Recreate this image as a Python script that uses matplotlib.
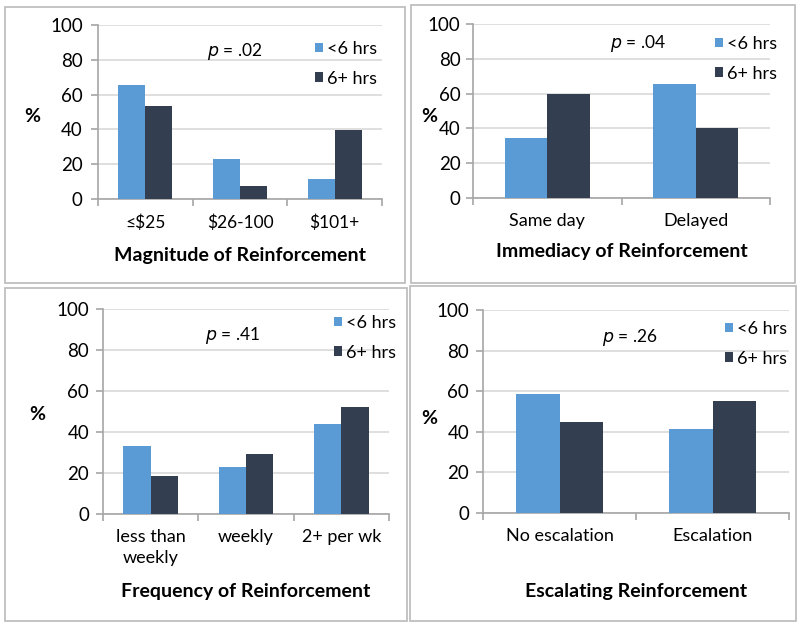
import numpy as np
import matplotlib
matplotlib.use("Agg")
import matplotlib.pyplot as plt
from matplotlib.patches import Rectangle

plt.rcParams['font.family'] = ['Lato', 'DejaVu Sans']

W, H = 800, 626

# data
series_names = ['<6 hrs', '6+ hrs']

mag_cats = ['≤$25', '$26-100', '$101+']
mag_lt6 = [65.5, 23, 11.3]
mag_6plus = [53.6, 7.2, 39.4]

imm_cats = ['Same day', 'Delayed']
imm_lt6 = [34.2, 65.7]
imm_6plus = [59.9, 40.0]

freq_cats = ['less than\nweekly', 'weekly', '2+ per wk']
freq_lt6 = [33.4, 23.1, 43.7]
freq_6plus = [18.6, 29.5, 52.1]

esc_cats = ['No escalation', 'Escalation']
esc_lt6 = [58.8, 41.2]
esc_6plus = [44.6, 55.4]

titles = ['Magnitude of Reinforcement', 'Immediacy of Reinforcement',
          'Frequency of Reinforcement', 'Escalating Reinforcement']
pvals = ['.02', '.04', '.41', '.26']

BLUE = '#5B9BD5'
DARK = '#333F50'


def fx(x):
    return x / W


def fy(y):
    return 1 - y / H


fig = plt.figure(figsize=(8, 6.26), dpi=100)

# panel frames (left, top, right, bottom) in pixels
boxes = [(5, 7, 405, 283), (411, 5, 795, 283), (5, 288, 407, 621), (410, 286, 796, 621)]
for l, t, r, b in boxes:
    fig.patches.append(Rectangle((fx(l), fy(b)), fx(r - l), (b - t) / H,
                                 transform=fig.transFigure, fill=False,
                                 edgecolor='#BFBFBF', linewidth=1.3))

# axes rects (left, top, right, bottom) in pixels
axes_px = [(98, 25, 382, 199), (473, 24, 770, 198), (103, 309, 389, 514), (483, 310, 789, 513)]
panels = [(mag_cats, mag_lt6, mag_6plus), (imm_cats, imm_lt6, imm_6plus),
          (freq_cats, freq_lt6, freq_6plus), (esc_cats, esc_lt6, esc_6plus)]
title_y = [255, 252, 592, 592]
pct_pos = [(32, 117), (429, 116), (37, 415), (429, 418)]
p_pos = [(235, 52), (638, 43), (232, 335), (630, 338)]
leg_pos = [(315, 41), (715, 36), (334, 315), (725, 321)]
cat_fs = [12.5, 13, 13, 13]
ypad = [6, 4, 5, 5]

w = 0.2857
for i in range(4):
    l, t, r, b = axes_px[i]
    ax = fig.add_axes([fx(l), fy(b), (r - l) / W, (b - t) / H])
    cats, lt6, p6 = panels[i]
    x = np.arange(len(cats))
    ax.bar(x - w / 2, lt6, w, color=BLUE, label=series_names[0], zorder=3)
    ax.bar(x + w / 2, p6, w, color=DARK, label=series_names[1], zorder=3)
    ax.set_xlim(-0.5, len(cats) - 0.5)
    ax.set_ylim(0, 100)
    ax.set_yticks(np.arange(0, 101, 20))
    ax.yaxis.grid(True, color='#D9D9D9', linewidth=1.2, zorder=0)
    ax.set_axisbelow(True)
    for s in ['top', 'right']:
        ax.spines[s].set_visible(False)
    for s in ['left', 'bottom']:
        ax.spines[s].set_color('#A6A6A6')
        ax.spines[s].set_linewidth(1.2)
    ax.set_xticks(np.arange(len(cats) + 1) - 0.5)
    ax.set_xticklabels([])
    ax.set_xticks(x, minor=True)
    ax.set_xticklabels(cats, minor=True, fontsize=cat_fs[i], linespacing=1.35)
    ax.tick_params(axis='x', which='major', length=5, color='#A6A6A6', width=1.2)
    ax.tick_params(axis='x', which='minor', length=0, pad=11)
    ax.tick_params(axis='y', length=5, color='#A6A6A6', width=1.2, pad=ypad[i], labelsize=13.5)

    fig.text(fx((l + r) / 2), fy(title_y[i]), titles[i], ha='center', va='center',
             fontsize=14, fontweight='bold')
    fig.text(fx(pct_pos[i][0]), fy(pct_pos[i][1]), '%', ha='center', va='center',
             fontsize=14, fontweight='bold')
    fig.text(fx(p_pos[i][0]), fy(p_pos[i][1]), r'$\it{p}$ = ' + pvals[i], ha='center',
             va='center', fontsize=12.5)
    ax.legend(loc='upper left', bbox_to_anchor=(fx(leg_pos[i][0]), fy(leg_pos[i][1])),
              bbox_transform=fig.transFigure, frameon=False, fontsize=13,
              handlelength=0.45, handleheight=0.45, handletextpad=0.2,
              labelspacing=0.75, borderpad=0, borderaxespad=0)

fig.savefig('out.png', dpi=100)
